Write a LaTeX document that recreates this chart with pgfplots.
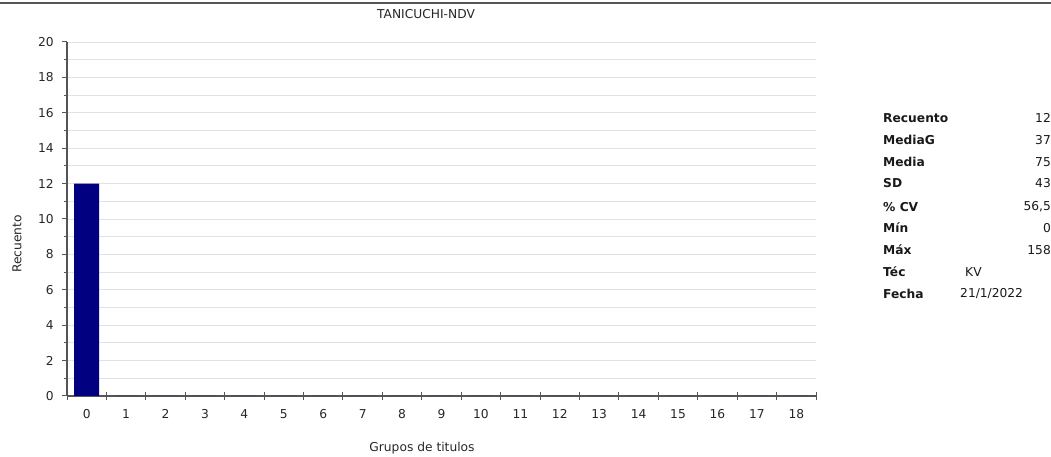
\documentclass[border=0pt]{standalone}
\usepackage{pgfplots}
\pgfplotsset{compat=1.18}
\usepackage{fontspec}
\setmainfont{DejaVu Sans}
\definecolor{barblue}{HTML}{000080}
\definecolor{axisgray}{HTML}{555555}
\definecolor{gridgray}{HTML}{E2E2E2}
\begin{document}
\fontsize{12.3}{14}\selectfont
\begin{tikzpicture}
\useasboundingbox (0,0) rectangle (1051bp,457bp);
\draw[axisgray, line width=2bp] (0,454bp) -- (1051bp,454bp);
\begin{axis}[
  at={(67bp,61bp)}, anchor=south west,
  scale only axis,
  width=749bp, height=354bp,
  xmin=-0.5, xmax=18.5, ymin=0, ymax=20,
  axis x line*=bottom, axis y line*=left,
  axis line style={axisgray, line width=1.2bp, -},
  xtick={0,...,18},
  xtick style={draw=none},
  extra x ticks={-0.5,0.5,...,18.5},
  extra x tick labels={},
  extra x tick style={tick align=center, major tick length=8bp,
    xtick style={draw=axisgray, line width=1bp}, grid=none},
  ytick={0,2,...,20},
  minor ytick={1,3,...,19},
  tick align=outside,
  major tick length=5bp, minor tick length=3bp,
  ytick style={axisgray, line width=1bp},
  ymajorgrids, yminorgrids,
  major grid style={gridgray, line width=0.8bp},
  minor grid style={gridgray, line width=0.8bp},
  tick label style={font=\fontsize{12.3}{14}\selectfont, text=black!85},
  /pgf/number format/assume math mode=true,
  yticklabel style={xshift=-4bp},
  xticklabel style={yshift=-4bp},
  clip=false,
]
\addplot[ybar, bar width=25bp, fill=barblue, draw=none]
  coordinates {(0,12) (1,0) (2,0) (3,0) (4,0) (5,0) (6,0) (7,0) (8,0) (9,0)
  (10,0) (11,0) (12,0) (13,0) (14,0) (15,0) (16,0) (17,0) (18,0)};
\end{axis}
\node[text=black!85] at (426bp,443bp) {TANICUCHI-NDV};
\node[text=black!85, rotate=90] at (17bp,213bp) {Recuento};
\node[text=black!85] at (422bp,9bp) {Grupos de titulos};
\begin{scope}[every node/.style={text=black!90, inner sep=0pt}]
\foreach \lab/\val/\y in {Recuento/12/339, MediaG/37/317, Media/75/295,
  SD/43/274, {\% CV}/{56,5}/250, Mín/0/229, Máx/158/207} {
  \node[anchor=west] at (883bp,\y bp) {\bfseries\lab};
  \node[anchor=east] at (1051bp,\y bp) {\val};
}
\node[anchor=west] at (883bp,185bp) {\bfseries Téc};
\node[anchor=west] at (965bp,185bp) {KV};
\node[anchor=west] at (883bp,163bp) {\bfseries Fecha};
\node[anchor=west] at (960bp,163bp) {21/1/2022};
\end{scope}
\end{tikzpicture}
\end{document}
